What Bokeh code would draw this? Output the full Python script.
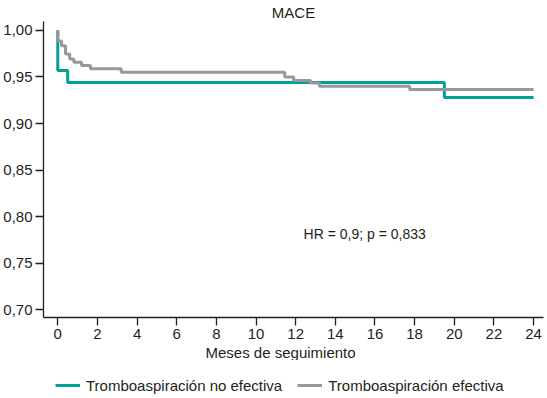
from bokeh.plotting import figure
from bokeh.layouts import column
from bokeh.models import (Range1d, FixedTicker, CustomJSTickFormatter, Legend,
                          LegendItem, Title, Label)
from bokeh.embed import file_html
from bokeh.resources import INLINE

# ---- data ----
months_no_efectiva = [0, 0, 0.5, 19.5, 24]
surv_no_efectiva = [1.0, 0.957, 0.944, 0.928, 0.928]

months_efectiva = [0, 0, 0.19, 0.39, 0.6, 0.81, 1.2, 1.65, 3.2, 11.45, 11.9,
                   12.75, 13.2, 17.75, 24]
surv_efectiva = [1.0, 0.9887, 0.9834, 0.9746, 0.9693, 0.9657, 0.9622, 0.9587,
                 0.9551, 0.9498, 0.9463, 0.9434, 0.940, 0.9364, 0.9364]

x_ticks = [0, 2, 4, 6, 8, 10, 12, 14, 16, 18, 20, 22, 24]
y_ticks = [0.70, 0.75, 0.80, 0.85, 0.90, 0.95, 1.00]

series_labels = ["Tromboaspiración no efectiva", "Tromboaspiración efectiva"]
title_text = "MACE"
x_label = "Meses de seguimiento"
annotation_text = "HR = 0,9; p = 0,833"

FONT = "Liberation Sans"
INK = "#231F20"
TEAL = "#00A099"
GREY = "#98989B"

main = figure(frame_width=500, frame_height=296, output_backend="svg",
              toolbar_location=None,
              x_range=Range1d(-0.72, 24.5), y_range=Range1d(0.6918, 1.0095),
              min_border_left=40, min_border_right=1, min_border_top=0,
              min_border_bottom=0, background_fill_color="white",
              border_fill_color="white")
main.outline_line_color = None
main.grid.visible = False

main.title.text = title_text
main.title.align = "center"
main.title.text_font = FONT
main.title.text_font_size = "15px"
main.title.text_font_style = "normal"
main.title.text_color = INK
main.title.standoff = 2

for ax in (main.xaxis[0], main.yaxis[0]):
    ax.axis_line_color = INK
    ax.axis_line_width = 1.3
    ax.major_tick_line_color = INK
    ax.major_tick_line_width = 1.3
    ax.major_tick_out = 8
    ax.major_tick_in = 0
    ax.minor_tick_line_color = None
    ax.major_label_text_font = FONT
    ax.major_label_text_font_size = "15px"
    ax.major_label_text_color = INK
    ax.major_label_standoff = 3

main.xaxis.ticker = FixedTicker(ticks=x_ticks)
main.yaxis.ticker = FixedTicker(ticks=y_ticks)
main.yaxis.formatter = CustomJSTickFormatter(
    code="return tick.toFixed(2).replace('.', ',');")

r1 = main.step(months_no_efectiva, surv_no_efectiva, mode="after",
               line_color=TEAL, line_width=3)
r2 = main.step(months_efectiva, surv_efectiva, mode="after",
               line_color=GREY, line_width=3)

main.add_layout(Label(x=12.4, y=0.781, text=annotation_text,
                      text_font=FONT, text_font_size="14px", text_color=INK,
                      text_baseline="middle", text_align="left"))

xt = Title(text=x_label, align="left", offset=162, standoff=0, text_font=FONT,
           text_font_size="15px", text_font_style="normal", text_color=INK)
main.add_layout(xt, "below")

# ---- legend strip below the chart (proxy lines lie outside its ranges) ----
leg_fig = figure(width=541, height=35, output_backend="svg",
                 toolbar_location=None, x_axis_type=None, y_axis_type=None,
                 x_range=Range1d(0, 1), y_range=Range1d(0, 1),
                 min_border_left=0, min_border_right=0, min_border_top=0,
                 min_border_bottom=0, background_fill_color="white",
                 border_fill_color="white")
leg_fig.outline_line_color = None
leg_fig.grid.visible = False
l1 = leg_fig.line([-10, -9], [-10, -9], line_color=TEAL, line_width=3)
l2 = leg_fig.line([-10, -9], [-10, -9], line_color=GREY, line_width=3)

legend = Legend(items=[LegendItem(label=series_labels[0], renderers=[l1]),
                       LegendItem(label=series_labels[1], renderers=[l2])],
                orientation="horizontal", location=(12, 0), glyph_width=25,
                label_standoff=6, spacing=15, padding=0, margin=0,
                border_line_color=None, background_fill_alpha=0,
                label_text_font=FONT, label_text_font_size="15px",
                label_text_color=INK)
leg_fig.add_layout(legend)

p = column(main, leg_fig, spacing=0)

open("out.html", "w").write(file_html(p, INLINE))
